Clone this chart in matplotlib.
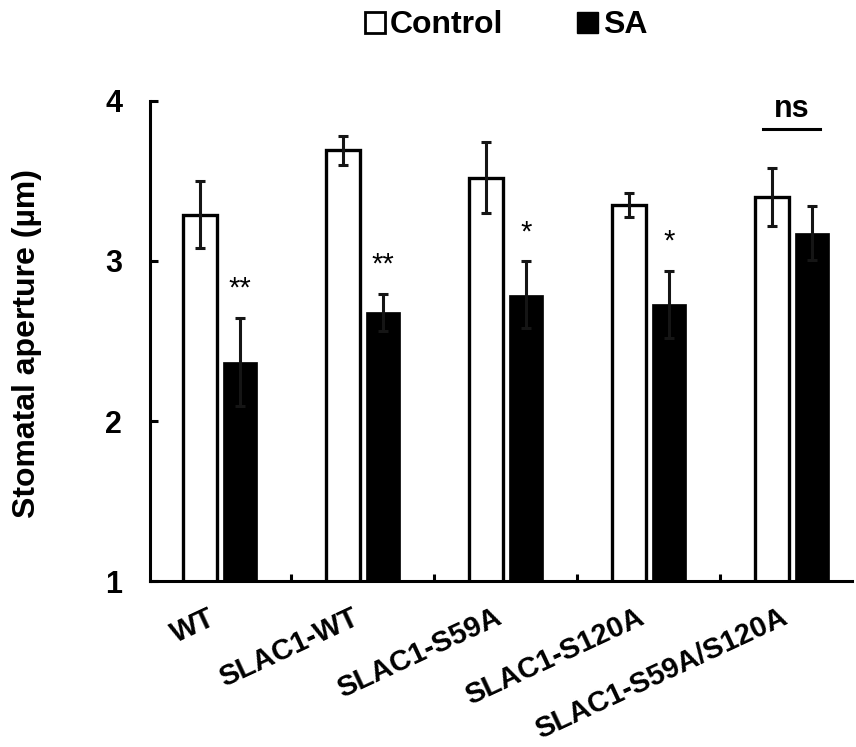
import numpy as np
import matplotlib
matplotlib.use('Agg')
import matplotlib.pyplot as plt
import matplotlib.transforms as mtransforms
from matplotlib.patches import Patch

plt.rcParams['font.family'] = ['Liberation Sans', 'DejaVu Sans']
plt.rcParams['font.weight'] = 'bold'

groups = ['WT', 'SLAC1-WT', 'SLAC1-S59A', 'SLAC1-S120A', 'SLAC1-S59A/S120A']
control = [3.29, 3.69, 3.52, 3.35, 3.40]
control_err = [0.21, 0.09, 0.22, 0.075, 0.18]
sa = [2.37, 2.68, 2.79, 2.73, 3.175]
sa_err = [0.275, 0.115, 0.21, 0.21, 0.17]
signif = ['**', '**', '*', '*', None]

x = np.arange(len(groups))
w = 0.238
off = 0.14

fig = plt.figure(figsize=(8.56, 7.47), dpi=100)
ax = fig.add_axes([0.175, 0.222, 0.820, 0.643])

ekw = dict(ecolor='#151515', elinewidth=2.2, capsize=3.5, capthick=2.2)
ax.bar(x - off, control, w, yerr=control_err, color='white', edgecolor='black',
       linewidth=2.4, error_kw=ekw, zorder=2)
ax.bar(x + off, sa, w, yerr=sa_err, color='black', edgecolor='black',
       linewidth=0.5, error_kw=ekw, zorder=2)

for i, s in enumerate(signif):
    if s:
        ax.annotate(s, (x[i] + off, sa[i] + sa_err[i]), xytext=(0, 15),
                    textcoords='offset points', ha='center', va='baseline',
                    fontsize=21, fontweight='normal')

# ns bracket over last group
ax.plot([x[4] - 0.2, x[4] + 0.2], [3.825, 3.825], color='black', lw=2.2,
        clip_on=False)
ax.text(x[4], 3.9, 'ns', ha='center', va='baseline', fontsize=22,
        fontweight='bold')

ax.set_xlim(-0.49, 4.42)
ax.set_ylim(1, 4)
ax.set_yticks([1, 2, 3, 4])
ax.set_xticks(x)
ax.set_xticklabels(groups, rotation=25, ha='right', va='top', fontsize=21,
                   fontweight='bold')
shift = mtransforms.ScaledTranslation(4 / 100, 0, fig.dpi_scale_trans)
for lbl in ax.get_xticklabels():
    lbl.set_transform(lbl.get_transform() + shift)
ax.set_xticks(x[:-1] + 0.5, minor=True)
ax.tick_params(axis='x', which='major', length=0, pad=16)
ax.tick_params(axis='x', which='minor', direction='in', length=5, width=2.2)
ax.tick_params(axis='y', direction='in', length=6, width=2.2, pad=20,
               labelsize=22)
for lbl in ax.get_yticklabels():
    lbl.set_fontweight('bold')

for sp in ['top', 'right']:
    ax.spines[sp].set_visible(False)
for sp in ['left', 'bottom']:
    ax.spines[sp].set_linewidth(2.2)

ax.set_ylabel('Stomatal aperture (µm)', fontsize=23, fontweight='bold')
ax.yaxis.set_label_coords(-0.154, 0.495)

handles = [Patch(facecolor='white', edgecolor='black', linewidth=2),
           Patch(facecolor='black', edgecolor='black')]
fig.legend(handles, ['Control', 'SA'], loc='center', ncol=2, frameon=False,
           bbox_to_anchor=(0.591, 0.966), prop={'size': 23, 'weight': 'bold'},
           handlelength=0.65, handleheight=0.65, handletextpad=0.15,
           columnspacing=2.3)

fig.savefig('out.png', dpi=100)
